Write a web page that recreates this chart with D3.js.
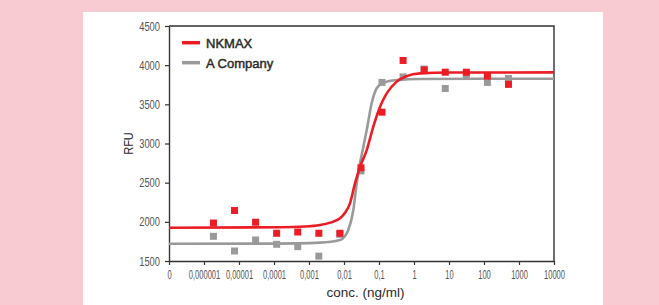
<!DOCTYPE html>
<html>
<head>
<meta charset="utf-8">
<script src="https://cdn.jsdelivr.net/npm/d3@7"></script>
<style>
  html, body { margin: 0; padding: 0; background: #f8cbd3; }
  svg { display: block; }
  text { font-family: "Liberation Sans", Arial, sans-serif; }
</style>
</head>
<body>
<svg id="chart" width="659" height="305"></svg>
<script>
// ---- data ----
const concentrations = [1.86e-6, 7.45e-6, 2.98e-5, 1.19e-4, 4.77e-4, 1.91e-3, 7.63e-3, 0.0305, 0.122, 0.488, 1.95, 7.81, 31.25, 125, 500];
const nkmaxValues    = [1985, 2145, 1995, 1854, 1870, 1854, 1854, 2690, 3400, 4060, 3940, 3910, 3910, 3860, 3755];
const aCompanyValues = [1815, 1628, 1768, 1713, 1683, 1562, 1840, 2650, 3780, 3850, 3950, 3702, 3860, 3780, 3830];

// fitted curves
const nkmaxFitConc   = [1e-7, 1.5e-4, 7.8e-4, 0.00206, 0.0040, 0.0077, 0.0107, 0.0148, 0.0206, 0.0286, 0.0446, 0.0687, 0.107, 0.166, 0.321, 0.618, 1.48, 10.7, 10000];
const nkmaxFitValues = [1925, 1930, 1940, 1960, 1990, 2045, 2115, 2235, 2490, 2700, 2915, 3215, 3470, 3640, 3790, 3860, 3895, 3906, 3908];
const aCompanyFitConc   = [1e-7, 1e-4, 0.00206, 0.0077, 0.0107, 0.0133, 0.0185, 0.0231, 0.0286, 0.0342, 0.0446, 0.0618, 0.0859, 0.133, 0.321, 1.48, 10000];
const aCompanyFitValues = [1720, 1722, 1734, 1768, 1819, 1896, 2151, 2492, 2747, 2917, 3172, 3513, 3705, 3776, 3811, 3824, 3827];

const xTickValues = [1e-7, 1e-6, 1e-5, 1e-4, 1e-3, 1e-2, 1e-1, 1, 10, 100, 1000, 10000];
const xTickLabels = ["0", "0,000001", "0,00001", "0,0001", "0,001", "0,01", "0,1", "1", "10", "100", "1000", "10000"];
const yTickValues = [1500, 2000, 2500, 3000, 3500, 4000, 4500];
const seriesNames = ["NKMAX", "A Company"];
const seriesColors = ["#ec1c24", "#9a9a9a"];

// ---- layout ----
const svg = d3.select("#chart");
const pLeft = 169, pRight = 554, pTop = 26, pBottom = 261;

svg.append("rect").attr("x", 83).attr("y", 12).attr("width", 520).attr("height", 300).attr("fill", "#ffffff");

const x = d3.scaleLog().domain([1e-7, 1e4]).range([pLeft, pRight]);
const y = d3.scaleLinear().domain([1500, 4500]).range([pBottom, pTop]);

const axisColor = "#333333";

// frame (top and right)
svg.append("path")
  .attr("d", d3.line()([[pLeft, pTop], [pRight, pTop], [pRight, pBottom]]))
  .attr("fill", "none").attr("stroke", axisColor).attr("stroke-width", 1.4);

// x axis
const xAxis = svg.append("g").attr("transform", `translate(0,${pBottom})`)
  .call(d3.axisBottom(x).tickValues(xTickValues).tickSize(4).tickSizeOuter(0)
    .tickFormat((d, i) => xTickLabels[i]));
xAxis.select(".domain").attr("stroke", axisColor).attr("stroke-width", 1.4);
xAxis.selectAll(".tick line").attr("stroke", axisColor).attr("stroke-width", 1.2);
xAxis.selectAll(".tick text")
  .attr("fill", "#555").attr("font-size", 13).attr("y", 9).attr("dy", "0.71em")
  .attr("transform", "scale(0.58,1)")
  .style("font-family", "'Liberation Sans', Arial, sans-serif");

// y axis
const yAxis = svg.append("g").attr("transform", `translate(${pLeft},0)`)
  .call(d3.axisLeft(y).tickValues(yTickValues).tickSize(4).tickSizeOuter(0).tickFormat(d3.format("d")));
yAxis.select(".domain").attr("stroke", axisColor).attr("stroke-width", 1.4);
yAxis.selectAll(".tick line").attr("stroke", axisColor).attr("stroke-width", 1.2);
yAxis.selectAll(".tick text")
  .attr("fill", "#555").attr("font-size", 13).attr("x", -9 / 0.72)
  .attr("transform", "scale(0.72,1)")
  .style("font-family", "'Liberation Sans', Arial, sans-serif");

// axis titles
svg.append("text").attr("transform", `translate(133,${(pTop + pBottom) / 2}) rotate(-90) scale(0.85,1)`)
  .attr("text-anchor", "middle").attr("font-size", 13).attr("fill", "#2a2a2a").text("RFU");
svg.append("text").attr("x", 365.5).attr("y", 297).attr("text-anchor", "middle")
  .attr("font-size", 13.5).attr("fill", "#2a2a2a").text("conc. (ng/ml)");

// curves & points
const line = d3.line().x(d => x(d[0])).y(d => y(d[1])).curve(d3.curveMonotoneX);
const sq = 7;
function points(vals, color) {
  svg.append("g").selectAll("rect").data(concentrations.map((c, i) => [c, vals[i]])).join("rect")
    .attr("x", d => x(d[0]) - sq / 2).attr("y", d => y(d[1]) - sq / 2)
    .attr("width", sq).attr("height", sq).attr("fill", color);
}
function curve(cs, vs, color) {
  svg.append("path").datum(cs.map((c, i) => [c, vs[i]])).attr("d", line)
    .attr("fill", "none").attr("stroke", color).attr("stroke-width", 2.6);
}
points(aCompanyValues, seriesColors[1]);
curve(aCompanyFitConc, aCompanyFitValues, seriesColors[1]);
curve(nkmaxFitConc, nkmaxFitValues, seriesColors[0]);
points(nkmaxValues, seriesColors[0]);

// legend
const legendY = [42.7, 62.7];
seriesNames.forEach((name, i) => {
  svg.append("line").attr("x1", 182).attr("x2", 200).attr("y1", legendY[i]).attr("y2", legendY[i])
    .attr("stroke", seriesColors[i]).attr("stroke-width", 3.5);
  svg.append("text").attr("x", 206).attr("y", legendY[i] + 4.8)
    .attr("font-size", 13).attr("fill", "#2a2a2a")
    .attr("stroke", "#2a2a2a").attr("stroke-width", 0.45)
    .text(name);
});
</script>
</body>
</html>
